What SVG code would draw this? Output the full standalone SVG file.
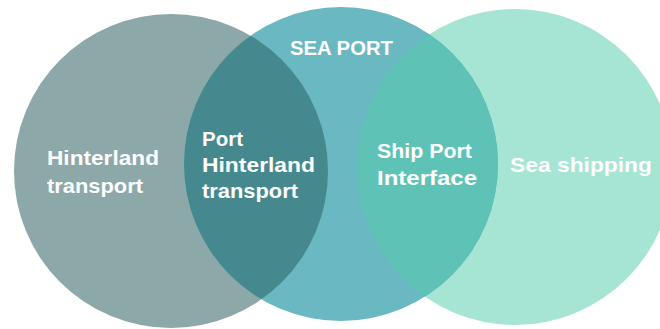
<svg xmlns="http://www.w3.org/2000/svg" width="660" height="329" viewBox="0 0 660 329">
  <style>
    .lbl { font-family: "Liberation Sans", Arial, sans-serif; font-weight: bold; font-size: 21px; fill: #ffffff; }
  </style>
  <defs>
    <clipPath id="clipMid">
      <circle cx="341" cy="164" r="157"/>
    </clipPath>
  </defs>
  <rect width="660" height="329" fill="#ffffff"/>

  <g id="hinterland">
    <circle cx="171" cy="171" r="157" fill="#8CA8A9"/>
  </g>
  <g id="sea-shipping">
    <circle cx="515" cy="167" r="158" fill="#A6E4D4"/>
  </g>
  <g id="sea-port">
    <circle cx="341" cy="164" r="157" fill="#69B8C2"/>
    <text class="lbl" x="290" y="55" textLength="103" lengthAdjust="spacingAndGlyphs">SEA PORT</text>
  </g>
  <!-- overlap lenses, clipped to the sea port circle -->
  <g id="port-hinterland" clip-path="url(#clipMid)">
    <circle cx="171" cy="171" r="157" fill="#45888E"/>
  </g>
  <g id="ship-port" clip-path="url(#clipMid)">
    <circle cx="515" cy="167" r="158" fill="#5EC2B6"/>
  </g>

  <g id="labels">
    <text class="lbl" x="47" y="165" textLength="112" lengthAdjust="spacingAndGlyphs">Hinterland</text>
    <text class="lbl" x="47" y="193" textLength="96" lengthAdjust="spacingAndGlyphs">transport</text>
    <text class="lbl" x="202" y="146" textLength="41" lengthAdjust="spacingAndGlyphs">Port</text>
    <text class="lbl" x="202" y="172" textLength="113" lengthAdjust="spacingAndGlyphs">Hinterland</text>
    <text class="lbl" x="202" y="198" textLength="96" lengthAdjust="spacingAndGlyphs">transport</text>
    <text class="lbl" x="377" y="158" textLength="95" lengthAdjust="spacingAndGlyphs">Ship Port</text>
    <text class="lbl" x="377" y="185" textLength="100" lengthAdjust="spacingAndGlyphs">Interface</text>
    <text class="lbl" x="510" y="172" textLength="142" lengthAdjust="spacingAndGlyphs">Sea shipping</text>
  </g>
</svg>
